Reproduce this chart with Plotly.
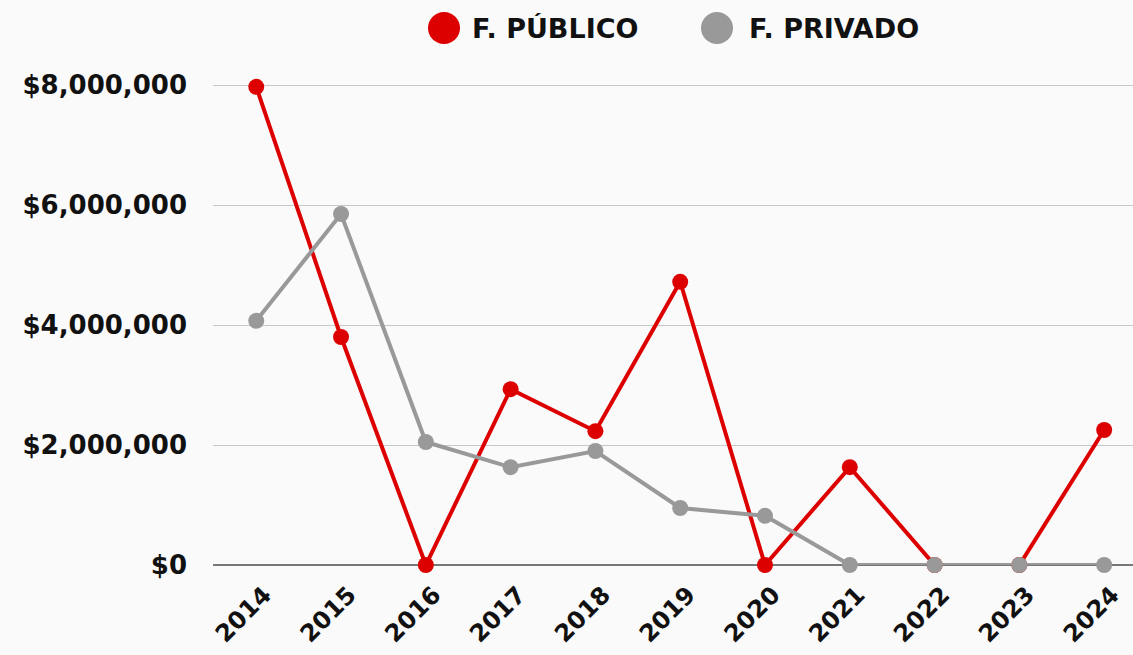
import plotly.graph_objects as go

years = [2014, 2015, 2016, 2017, 2018, 2019, 2020, 2021, 2022, 2023, 2024]
publico = [7970000, 3800000, 0, 2930000, 2230000, 4720000, 0, 1630000, 0, 0, 2250000]
privado = [4070000, 5850000, 2050000, 1630000, 1900000, 950000, 820000, 0, 0, 0, 0]
y_ticks = [0, 2000000, 4000000, 6000000, 8000000]
y_labels = ["$0", "$2,000,000", "$4,000,000", "$6,000,000", "$8,000,000"]
series_names = ["F. PÚBLICO", "F. PRIVADO"]

RED = "#DD0000"
GRAY = "#999999"
FONT = "DejaVu Sans"

W, H = 1133, 655
ML, MR, MT, MB = 213, 0, 55, 90
PW, PH = W - ML - MR, H - MT - MB


def px_x(p):
    return (p - ML) / PW


def px_y(p):
    return (H - MB - p) / PH


fig = go.Figure()
fig.add_trace(go.Scatter(x=years, y=publico, mode="lines+markers", name=series_names[0],
                         line=dict(color=RED, width=4), marker=dict(color=RED, size=16),
                         showlegend=False, cliponaxis=False))
fig.add_trace(go.Scatter(x=years, y=privado, mode="lines+markers", name=series_names[1],
                         line=dict(color=GRAY, width=4), marker=dict(color=GRAY, size=16),
                         showlegend=False, cliponaxis=False))

# legend drawn as circles + labels (large symbols as in the reference)
legend_items = [(series_names[0], RED, 444, 470), (series_names[1], GRAY, 717, 747)]
shapes = []
annotations = []
for name, col, cx, tx in legend_items:
    shapes.append(dict(type="circle", xref="paper", yref="paper", xsizemode="pixel",
                       ysizemode="pixel", xanchor=px_x(cx), yanchor=px_y(28),
                       x0=-16, x1=16, y0=-16, y1=16, fillcolor=col, line=dict(width=0)))
    annotations.append(dict(text=name, xref="paper", yref="paper", x=px_x(tx), y=px_y(29),
                            xanchor="left", yanchor="middle", showarrow=False,
                            font=dict(size=27, family=FONT, weight=700, color="#111111")))

fig.update_layout(
    width=W, height=H,
    margin=dict(l=ML, r=MR, t=MT, b=MB, autoexpand=False),
    paper_bgcolor="#FAFAFA", plot_bgcolor="#FAFAFA",
    font=dict(family=FONT, color="#111111"),
    showlegend=False,
    shapes=shapes, annotations=annotations,
    xaxis=dict(range=[2013.49, 2024.34], tickmode="array", tickvals=years,
               ticktext=[str(y) for y in years], tickangle=-45, showgrid=False,
               tickfont=dict(size=24, family=FONT, weight=700), zeroline=False,
               automargin=False, ticks="", ticklabelstandoff=10, ticklabelshift=8),
    yaxis=dict(range=[0, 8500000], tickmode="array", tickvals=y_ticks, ticktext=y_labels,
               showgrid=True, gridcolor="#C8C8C8", gridwidth=1, zeroline=True,
               zerolinecolor="#777777", zerolinewidth=1.5, automargin=False,
               tickfont=dict(size=26, family=FONT, weight=700), ticklabelstandoff=25),
)
fig.write_html("out.html", config={"displayModeBar": False},
               post_script="document.body.style.margin='0';")
